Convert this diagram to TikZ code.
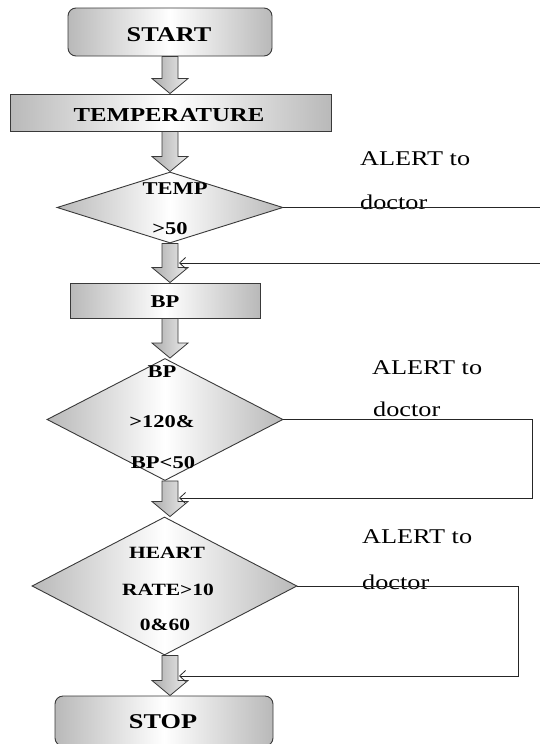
\documentclass[tikz,border=0pt]{standalone}
\usepackage{fontspec}
\setmainfont{Liberation Serif}[FakeStretch=1.25]
\usetikzlibrary{shapes.geometric,arrows.meta,calc}
\def\ax{170pt}
\newcommand{\barrow}[2]{%
  \path[blockarrow] let \p1=(#1), \p2=(#2) in
    (\ax-8pt,\y1) -- (\ax+8pt,\y1) -- (\ax+8pt,\y2+15pt) -- (\ax+18pt,\y2+15pt)
    -- (\ax,\y2) -- (\ax-18pt,\y2+15pt) -- (\ax-8pt,\y2+15pt) -- cycle;}
\tikzset{
  shadedbox/.style={draw=gray!45!black, line width=0.9pt, left color=gray!55, right color=gray!55, middle color=white, inner sep=0pt},
  roundbox/.style={shadedbox, rounded corners=8pt},
  decision/.style={shadedbox, diamond, shape aspect=1},
  blockarrow/.style={draw=gray!45!black, line width=0.8pt, left color=gray!65, right color=gray!15},
  loopline/.style={draw=black!85, line width=0.8pt, -{Straight Barb[length=6pt,width=11pt]}},
  boxtext/.style={font=\bfseries\fontsize{21}{23}\selectfont, inner sep=0pt},
  dtext/.style={font=\bfseries\fontsize{18}{20}\selectfont, inner sep=0pt, anchor=base},
  htext/.style={font=\bfseries\fontsize{17.2}{19}\selectfont, inner sep=0pt, anchor=base},
  alert/.style={font=\fontsize{21}{23}\selectfont, inner sep=0pt, anchor=base west},
}
\begin{document}
\begin{tikzpicture}[x=1pt,y=-1pt]
\clip (0,0) rectangle (540,744);
\fill[white] (0,0) rectangle (540,744);

% boxes
\node[roundbox, minimum width=204pt, minimum height=48pt] (start) at (170,32) {};
\node[boxtext, anchor=base] (startt) at (169,41) {START};
\node[shadedbox, minimum width=321pt, minimum height=37pt] (temp) at (170.5,112.5) {};
\node[boxtext, anchor=base, font=\bfseries\fontsize{19.8}{21}\selectfont] (tempt) at (169,121) {TEMPERATURE};
\node[decision, minimum width=226pt, minimum height=71pt] (d1) at (170,207.5) {};
\node[dtext] (d1a) at (175,194) {TEMP};
\node[dtext] (d1b) at (170,234) {>50};
\node[shadedbox, minimum width=190pt, minimum height=35pt] (bp) at (165,300.5) {};
\node[boxtext, anchor=base, font=\bfseries\fontsize{18}{20}\selectfont] (bpt) at (165,307) {BP};
\node[decision, minimum width=236pt, minimum height=122pt] (d2) at (165,419.5) {};
\node[dtext] (d2a) at (162,377) {BP};
\node[dtext] (d2b) at (162,427) {>120\&};
\node[dtext] (d2c) at (163,468) {BP<50};
\node[decision, minimum width=265pt, minimum height=138pt] (d3) at (164.5,586) {};
\node[htext] (d3a) at (167,558) {HEART};
\node[htext] (d3b) at (168,595) {RATE>10};
\node[htext] (d3c) at (165,630) {0\&60};
\node[roundbox, minimum width=218pt, minimum height=50pt] (stop) at (164,721) {};
\node[boxtext, anchor=base] (stopt) at (163,728) {STOP};

% block arrows
\barrow{start.south}{temp.north}
\barrow{temp.south}{d1.north}
\barrow{d1.south}{bp.north}
\barrow{bp.south}{d2.north}
\barrow{d2.south}{d3.north}
\barrow{d3.south}{stop.north}

% alert labels
\node[alert] (al1) at (360,165) {ALERT to};
\node[alert] (al1b) at (360,209) {doctor};
\node[alert] (al2) at (372,374) {ALERT to};
\node[alert] (al2b) at (373,416) {doctor};
\node[alert] (al3) at (362,543) {ALERT to};
\node[alert] (al3b) at (362,589) {doctor};

% loop connectors
\coordinate (r1) at (179,263);
\coordinate (c1a) at (545,207.5);
\coordinate (c1b) at (545,263);
\draw[loopline] (d1.east) -- (c1a) -- (c1b) -- (r1);
\coordinate (r2) at (179,498);
\coordinate (c2a) at (532,419.5);
\coordinate (c2b) at (532,498);
\draw[loopline] (d2.east) -- (c2a) -- (c2b) -- (r2);
\coordinate (r3) at (179,676);
\coordinate (c3a) at (518,586);
\coordinate (c3b) at (518,676);
\draw[loopline] (d3.east) -- (c3a) -- (c3b) -- (r3);
\end{tikzpicture}
\end{document}
